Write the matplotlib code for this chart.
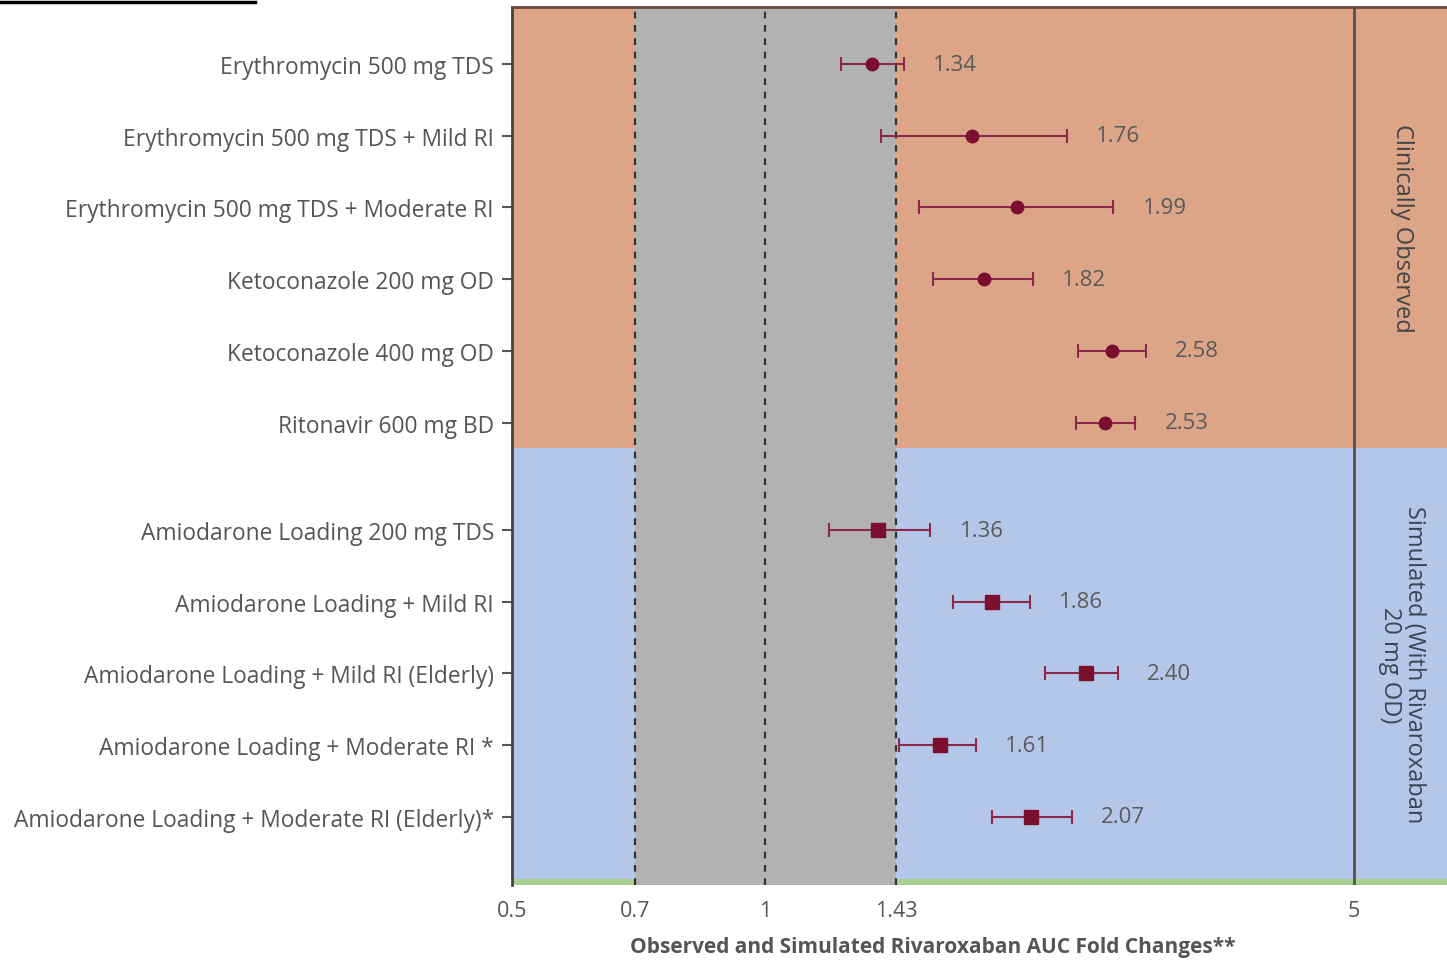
import matplotlib
matplotlib.use("Agg")
import matplotlib.pyplot as plt
from matplotlib.lines import Line2D
import numpy as np

plt.rcParams['font.family'] = ['Open Sans', 'DejaVu Sans']

labels = [
    "Erythromycin 500 mg TDS",
    "Erythromycin 500 mg TDS + Mild RI",
    "Erythromycin 500 mg TDS + Moderate RI",
    "Ketoconazole 200 mg OD",
    "Ketoconazole 400 mg OD",
    "Ritonavir 600 mg BD",
    "Amiodarone Loading 200 mg TDS",
    "Amiodarone Loading + Mild RI",
    "Amiodarone Loading + Mild RI (Elderly)",
    "Amiodarone Loading + Moderate RI *",
    "Amiodarone Loading + Moderate RI (Elderly)*",
]
row_pos = [0, 1, 2, 3, 4, 5, 6.5, 7.5, 8.5, 9.5, 10.5]
fold = [1.34, 1.76, 1.99, 1.82, 2.58, 2.53, 1.36, 1.86, 2.40, 1.61, 2.07]
lower = [1.23, 1.37, 1.52, 1.58, 2.35, 2.34, 1.19, 1.67, 2.15, 1.44, 1.86]
upper = [1.46, 2.28, 2.59, 2.08, 2.83, 2.75, 1.57, 2.06, 2.62, 1.78, 2.31]
observed = [True] * 6 + [False] * 5
xticks = [0.5, 0.7, 1, 1.43, 5]
xticklabels = ["0.5", "0.7", "1", "1.43", "5"]

fig = plt.figure(figsize=(14.47, 9.62), dpi=100)
ax = fig.add_axes([512/1447, 1-886/962, 1-512/1447, (886-8)/962])

xmin, xmax = 0.5, 6.45
ymin, ymax = -0.795, 11.45
split = 5.36
ax.set_xscale('log')
ax.set_xlim(xmin, xmax)
ax.set_ylim(ymax, ymin)

ax.axhspan(ymin, split, color='#dca588', zorder=0, lw=0)
ax.axhspan(split, 11.37, color='#b5c7e8', zorder=0, lw=0)
ax.axhspan(11.37, ymax, color='#a9cf91', zorder=0, lw=0)
ax.axvspan(0.7, 1.43, color='#b2b2b2', zorder=1, lw=0)
for xv in [0.7, 1, 1.43]:
    ax.axvline(xv, color='#333333', lw=1.6, ls=(0, (3, 3)), zorder=2)
ax.axvline(5, color='#55504e', lw=2, zorder=2)

for i in range(len(fold)):
    y = row_pos[i]
    ax.errorbar(fold[i], y, xerr=[[fold[i]-lower[i]], [upper[i]-fold[i]]],
                fmt='o' if observed[i] else 's', color='#7a0f30',
                ecolor='#8a2a48', elinewidth=1.5, capsize=5, capthick=1.5,
                markersize=9 if observed[i] else 10, zorder=4)
    ax.annotate(f"{fold[i]:.2f}", xy=(upper[i], y), xytext=(21, 0),
                textcoords='offset points', ha='left', va='center',
                fontsize=16, color='#5a5a5a', zorder=5)

ax.text(5.7, (ymin+split)/2, "Clinically Observed", rotation=-90,
        ha='center', va='center', fontsize=17, color='#444444')
ax.text(5.7, (split+11.37)/2, "Simulated (With Rivaroxaban\n20 mg OD)", rotation=-90,
        ha='center', va='center', fontsize=17, color='#3a4555', linespacing=1.0)

ax.set_yticks(row_pos)
ax.set_yticklabels(labels, fontsize=16.4, color='#555555')
ax.tick_params(axis='y', length=7, width=1.5, color='#555555', pad=6)
ax.set_xticks(xticks)
ax.set_xticklabels(xticklabels, fontsize=15.5, color='#555555')
ax.xaxis.set_minor_locator(matplotlib.ticker.NullLocator())
ax.tick_params(axis='x', length=0, pad=11)
ax.set_xlabel("Observed and Simulated Rivaroxaban AUC Fold Changes**",
              fontsize=15, fontweight='bold', color='#555555')
ax.xaxis.set_label_coords(0.45, -0.058)

for s in ['right', 'bottom']:
    ax.spines[s].set_visible(False)
ax.spines['left'].set_color('#444444')
ax.spines['left'].set_linewidth(2)
ax.spines['top'].set_color('#6b4a3a')
ax.spines['top'].set_linewidth(2)

fig.add_artist(Line2D([0, 255/1447], [1-3/962, 1-3/962], color='black', lw=2.5,
                      transform=fig.transFigure))

fig.savefig("out.png", dpi=100)
